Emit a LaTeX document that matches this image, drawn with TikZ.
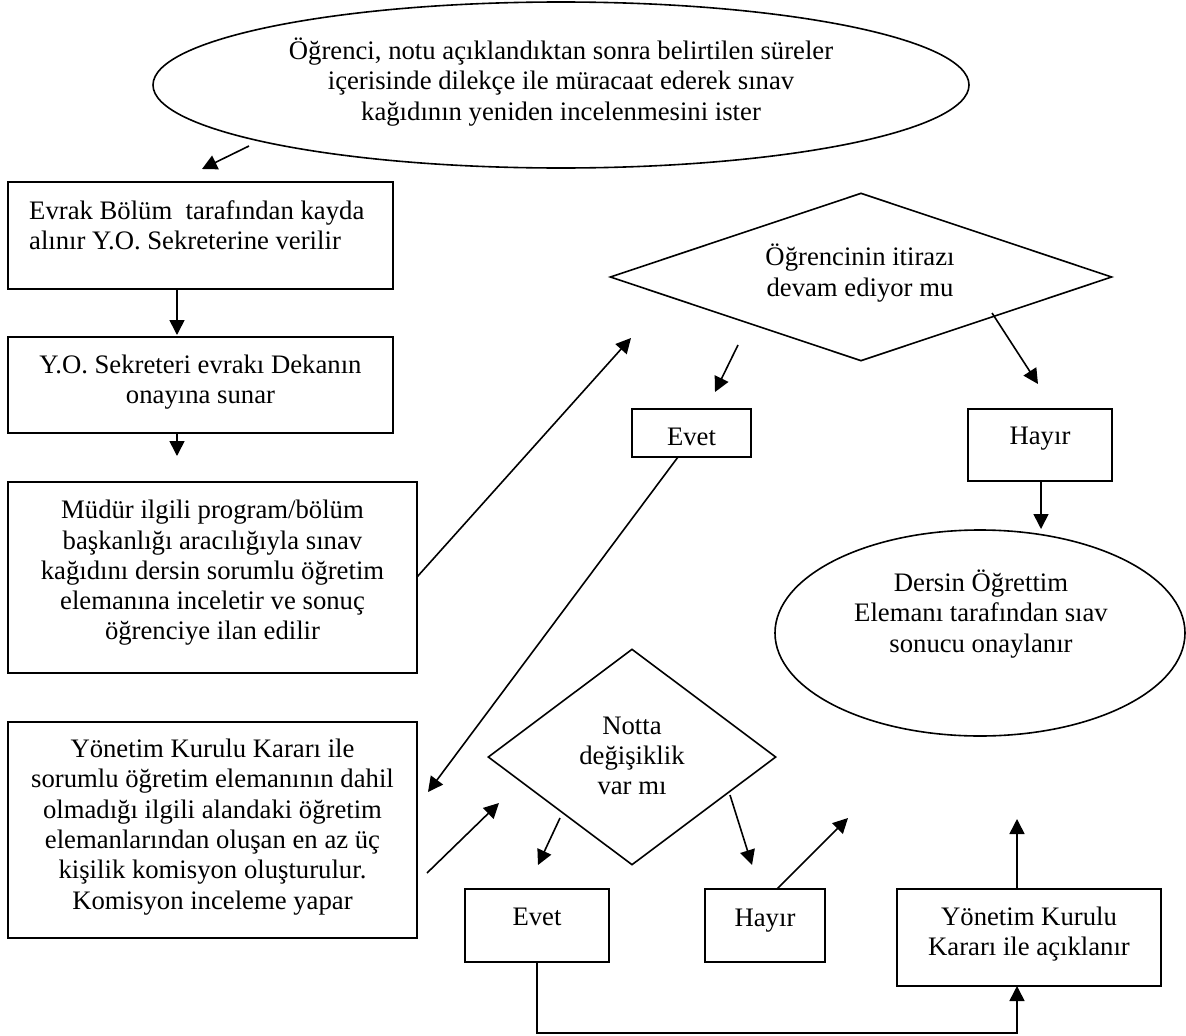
\documentclass[tikz,border=0pt]{standalone}
\usepackage{fontspec}
\setmainfont{Liberation Serif}
\usetikzlibrary{shapes.geometric,arrows.meta}
\begin{document}
\begin{tikzpicture}[x=1pt,y=-1pt,
  outline/.style={draw, line width=1.9pt, inner sep=0pt},
  rectbox/.style={outline, rectangle},
  ellbox/.style={outline, ellipse, line width=1.6pt},
  diabox/.style={outline, diamond, line width=1.6pt},
  txt/.style={inner sep=0pt, align=center, font=\fontsize{26.7}{30.3}\selectfont},
  arr/.style={line width=1.6pt, -{Triangle[length=15pt,width=15pt]}}]
\useasboundingbox[fill=white] (0,0) rectangle (1186,1036);

% shapes
\node[ellbox, minimum width=816pt, minimum height=166pt] (e1) at (561,85) {};
\node[rectbox, minimum width=385pt, minimum height=107pt] (b1) at (200.5,235.5) {};
\node[rectbox, minimum width=385pt, minimum height=96pt] (b2) at (200.5,385) {};
\node[rectbox, minimum width=409pt, minimum height=191pt] (b3) at (212.5,577.5) {};
\node[rectbox, minimum width=409pt, minimum height=216pt] (b4) at (212.5,830) {};
\node[diabox, minimum width=502pt, minimum height=168pt] (d1) at (861,277) {};
\node[rectbox, minimum width=119pt, minimum height=48pt] (ev1) at (691.5,433) {};
\node[rectbox, minimum width=144pt, minimum height=72pt] (h1) at (1040,445) {};
\node[ellbox, minimum width=410pt, minimum height=206pt] (e2) at (980,633) {};
\node[diabox, minimum width=288pt, minimum height=216pt] (d2) at (632,757) {};
\node[rectbox, minimum width=144pt, minimum height=73pt] (ev2) at (537,925.5) {};
\node[rectbox, minimum width=120pt, minimum height=73pt] (h2) at (765,925.5) {};
\node[rectbox, minimum width=264pt, minimum height=97pt] (b5) at (1029,937.5) {};

% texts
\node[txt] (te1) at (561,82) {Öğrenci, notu açıklandıktan sonra belirtilen süreler\\içerisinde dilekçe ile müracaat ederek sınav\\kağıdının yeniden incelenmesini ister};
\node[txt, align=left, anchor=north west] (tb1) at (29,200) {Evrak Bölüm\ \ tarafından kayda\\alınır Y.O. Sekreterine verilir};
\node[txt] (tb2) at (200.5,382) {Y.O. Sekreteri evrakı Dekanın\\onayına sunar};
\node[txt] (tb3) at (212.5,573) {Müdür ilgili program/bölüm\\başkanlığı aracılığıyla sınav\\kağıdını dersin sorumlu öğretim\\elemanına inceletir ve sonuç\\öğrenciye ilan edilir};
\node[txt] (tb4) at (212.5,827) {Yönetim Kurulu Kararı ile\\sorumlu öğretim elemanının dahil\\olmadığı ilgili alandaki öğretim\\elemanlarından oluşan en az üç\\kişilik komisyon oluşturulur.\\Komisyon inceleme yapar};
\node[txt] (td1) at (860,273) {Öğrencinin itirazı\\devam ediyor mu};
\node[txt] (tev1) at (691.5,437) {Evet};
\node[txt] (th1) at (1040,439) {Hayır};
\node[txt] (te2) at (981,614) {Dersin Öğrettim\\Elemanı tarafından sıav\\sonucu onaylanır};
\node[txt] (td2) at (632,756) {Notta\\değişiklik\\var mı};
\node[txt] (tev2) at (537,917) {Evet};
\node[txt] (th2) at (765,921) {Hayır};
\node[txt] (tb5) at (1029,934) {Yönetim Kurulu\\Kararı ile açıklanır};

% connector end points
\coordinate (a1s) at (249,146);   \coordinate (a1e) at (202,169);
\coordinate (a2s) at (177,289);   \coordinate (a2e) at (177,335);
\coordinate (a3s) at (177,433);   \coordinate (a3e) at (177,456);
\coordinate (a4s) at (417,577);   \coordinate (a4e) at (631,338);
\coordinate (a5s) at (738,345);   \coordinate (a5e) at (715,392);
\coordinate (a6s) at (992,313);   \coordinate (a6e) at (1038,384);
\coordinate (a7s) at (1041,481);  \coordinate (a7e) at (1041,529);
\coordinate (a8s) at (678,457);   \coordinate (a8e) at (428,792);
\coordinate (a9s) at (427,873);   \coordinate (a9e) at (499,803);
\coordinate (a10s) at (560,818);  \coordinate (a10e) at (538,865);
\coordinate (a11s) at (730,795);  \coordinate (a11e) at (752,865);
\coordinate (a12s) at (777,889);  \coordinate (a12e) at (848,818);
\coordinate (a13s) at (1017,889); \coordinate (a13e) at (1017,819);
\coordinate (a14m) at (537,1033); \coordinate (a14e) at (1017,986);

% connectors
\draw[arr] (a1s) -- (a1e);
\draw[arr] (a2s) -- (a2e);
\draw[arr] (a3s) -- (a3e);
\draw[arr] (a4s) -- (a4e);
\draw[arr] (a5s) -- (a5e);
\draw[arr] (a6s) -- (a6e);
\draw[arr] (a7s) -- (a7e);
\draw[arr] (a8s) -- (a8e);
\draw[arr] (a9s) -- (a9e);
\draw[arr] (a10s) -- (a10e);
\draw[arr] (a11s) -- (a11e);
\draw[arr] (a12s) -- (a12e);
\draw[arr] (a13s) -- (a13e);
\draw[arr] (ev2.south) -- (a14m) -| (a14e);
\end{tikzpicture}
\end{document}
